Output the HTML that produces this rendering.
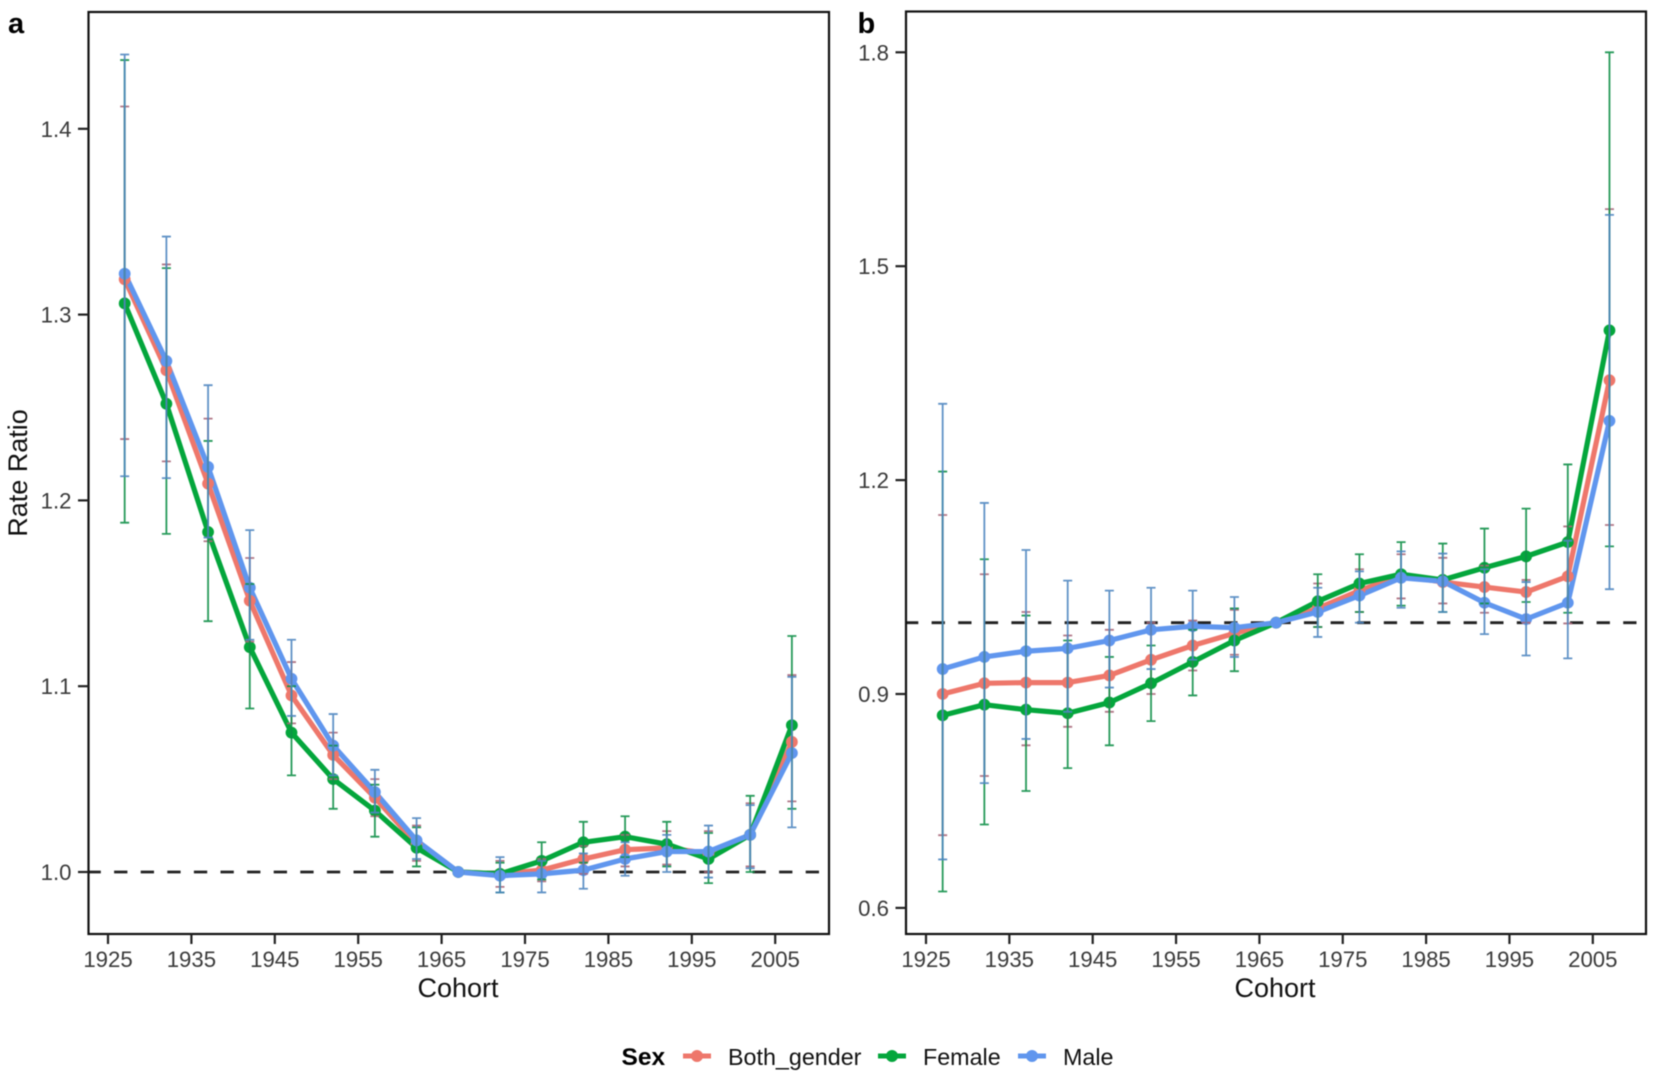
<!DOCTYPE html>
<html lang="en">
<head>
<meta charset="utf-8">
<title>Rate Ratio by Cohort</title>
<style>
html,body{margin:0;padding:0;background:#fff;}
body{width:1654px;height:1074px;overflow:hidden;}
svg{display:block;font-family:"Liberation Sans",Arial,sans-serif;filter:blur(0.55px);}
</style>
</head>
<body>
<svg id="chart" xmlns="http://www.w3.org/2000/svg" width="1654" height="1074" viewBox="0 0 1654 1074">
  <rect x="0" y="0" width="1654" height="1074" fill="#ffffff"/>
  <text x="8" y="33" font-size="29" font-weight="bold" fill="#000">a</text>
  <text x="857.5" y="33" font-size="29" font-weight="bold" fill="#000">b</text>
  <text transform="translate(27,473) rotate(-90)" text-anchor="middle" font-size="27" fill="#111">Rate Ratio</text>
  <text x="458" y="997" text-anchor="middle" font-size="27" fill="#111">Cohort</text>
  <text x="1275" y="997" text-anchor="middle" font-size="27" fill="#111">Cohort</text>
  <g>
    <text x="621.5" y="1065" font-size="24.5" font-weight="bold" fill="#000">Sex</text>
    <g>
      <line x1="683" y1="1056" x2="711" y2="1056" stroke="#EE776B" stroke-width="5"/>
      <circle cx="697" cy="1056" r="6" fill="#EE776B"/>
      <text x="728" y="1065" font-size="23.3" fill="#111">Both_gender</text>
    </g>
    <g>
      <line x1="878" y1="1056" x2="906" y2="1056" stroke="#04A63C" stroke-width="5"/>
      <circle cx="892" cy="1056" r="6" fill="#04A63C"/>
      <text x="923" y="1065" font-size="23.3" fill="#111">Female</text>
    </g>
    <g>
      <line x1="1018" y1="1056" x2="1046" y2="1056" stroke="#6096EE" stroke-width="5"/>
      <circle cx="1032" cy="1056" r="6" fill="#6096EE"/>
      <text x="1063" y="1065" font-size="23.3" fill="#111">Male</text>
    </g>
  </g>
</svg>
<script>
var cohorts = [1927,1932,1937,1942,1947,1952,1957,1962,1967,1972,1977,1982,1987,1992,1997,2002,2007];
var xTickLabels = [1925,1935,1945,1955,1965,1975,1985,1995,2005];
var yTicksA = ["1.0","1.1","1.2","1.3","1.4"];
var yTicksB = ["0.6","0.9","1.2","1.5","1.8"];
var referenceValue = 1;

var aBoth = [1.319,1.27,1.209,1.146,1.095,1.063,1.04,1.015,1,0.999,1.001,1.007,1.012,1.013,1.01,1.02,1.07];
var aBothUpper = [1.412,1.327,1.244,1.169,1.113,1.075,1.05,1.025,1,1.006,1.007,1.014,1.02,1.022,1.022,1.037,1.106];
var aBothLower = [1.233,1.221,1.178,1.124,1.08,1.05,1.03,1.006,1,0.992,0.995,0.999,1.003,1.004,1.0,1.003,1.038];
var aFemale = [1.306,1.252,1.183,1.121,1.075,1.05,1.033,1.013,1,0.999,1.006,1.016,1.019,1.015,1.007,1.02,1.079];
var aFemaleUpper = [1.437,1.325,1.232,1.155,1.1,1.068,1.047,1.024,1,1.005,1.016,1.027,1.03,1.027,1.021,1.041,1.127];
var aFemaleLower = [1.188,1.182,1.135,1.088,1.052,1.034,1.019,1.003,1,0.989,0.996,1.005,1.008,1.003,0.994,1.0,1.034];
var aMale = [1.322,1.275,1.218,1.153,1.104,1.068,1.043,1.017,1,0.998,0.999,1.001,1.007,1.011,1.011,1.02,1.064];
var aMaleUpper = [1.44,1.342,1.262,1.184,1.125,1.085,1.055,1.029,1,1.008,1.006,1.01,1.016,1.02,1.025,1.036,1.105];
var aMaleLower = [1.213,1.212,1.18,1.125,1.084,1.052,1.032,1.007,1,0.989,0.989,0.991,0.998,1.0,0.997,1.002,1.024];

var bBoth = [0.9,0.915,0.916,0.916,0.926,0.948,0.968,0.985,1,1.02,1.045,1.066,1.057,1.05,1.043,1.065,1.34];
var bBothUpper = [1.151,1.068,1.015,0.982,0.99,1.0,1.003,1.018,1,1.055,1.075,1.096,1.091,1.08,1.06,1.135,1.58];
var bBothLower = [0.702,0.785,0.828,0.854,0.875,0.9,0.933,0.955,1,0.994,1.015,1.034,1.027,1.014,1.0,0.999,1.137];
var bFemale = [0.87,0.885,0.878,0.873,0.888,0.915,0.945,0.975,1,1.03,1.055,1.068,1.06,1.077,1.093,1.113,1.41];
var bFemaleUpper = [1.212,1.089,1.01,0.975,0.952,0.968,0.99,1.02,1,1.068,1.096,1.113,1.111,1.132,1.16,1.222,1.8];
var bFemaleLower = [0.623,0.717,0.764,0.796,0.828,0.862,0.898,0.932,1,0.994,1.015,1.024,1.015,1.027,1.029,1.014,1.107];
var bMale = [0.935,0.952,0.96,0.964,0.975,0.99,0.995,0.993,1,1.015,1.038,1.063,1.058,1.028,1.005,1.028,1.283];
var bMaleUpper = [1.307,1.168,1.102,1.059,1.045,1.049,1.045,1.036,1,1.049,1.072,1.1,1.097,1.075,1.057,1.115,1.572];
var bMaleLower = [0.668,0.775,0.837,0.875,0.909,0.935,0.948,0.952,1,0.98,1.0,1.021,1.015,0.984,0.954,0.95,1.047];

var NS = 'http://www.w3.org/2000/svg';
var svg = document.getElementById('chart');

function make(tag, parent) {
  var el = document.createElementNS(NS, tag);
  parent.appendChild(el);
  return el;
}

function drawPanel(panelId, box, xAxis, yAxis, yLabels, seriesList) {
  var group = make('g', svg);
  
  

  // dashed reference line
  var refLine = make('line', group);
  
  
  refLine.setAttribute('x1', box.left - 1);
  refLine.setAttribute('x2', box.right);
  refLine.setAttribute('y1', yAxis(referenceValue));
  refLine.setAttribute('y2', yAxis(referenceValue));
  refLine.setAttribute('stroke', '#222');
  refLine.setAttribute('stroke-width', '2.8');
  refLine.setAttribute('stroke-dasharray', '13.3 13.3');

  // series lines and points
  seriesList.forEach(function (s) {
    var pts = cohorts.map(function (c, i) { return xAxis(c) + ',' + yAxis(s.values[i]); }).join(' ');
    var line = make('polyline', group);
    
    
    line.setAttribute('points', pts);
    line.setAttribute('fill', 'none');
    line.setAttribute('stroke', s.color);
    line.setAttribute('stroke-width', '5.2');
    line.setAttribute('stroke-linejoin', 'round');
  });
  seriesList.forEach(function (s) {
    cohorts.forEach(function (c, i) {
      var dot = make('circle', group);
      
      
      dot.setAttribute('cx', xAxis(c));
      dot.setAttribute('cy', yAxis(s.values[i]));
      dot.setAttribute('r', '5.9');
      dot.setAttribute('fill', s.color);
    });
  });

  // error bars
  seriesList.forEach(function (s) {
    cohorts.forEach(function (c, i) {
      if (s.upper[i] === s.lower[i]) { return; }
      var cx = xAxis(c), yu = yAxis(s.upper[i]), yl = yAxis(s.lower[i]);
      var bar = make('path', group);
      
      
      bar.setAttribute('d', 'M' + (cx - 4.5) + ' ' + yu + 'H' + (cx + 4.5) + 'M' + cx + ' ' + yu + 'V' + yl + 'M' + (cx - 4.5) + ' ' + yl + 'H' + (cx + 4.5));
      bar.setAttribute('fill', 'none');
      bar.setAttribute('stroke', s.barColor);
      bar.setAttribute('stroke-width', '1.8');
      bar.setAttribute('stroke-opacity', '0.9');
    });
  });

  // panel border
  var border = make('rect', group);
  
  
  border.setAttribute('x', box.left);
  border.setAttribute('y', box.top);
  border.setAttribute('width', box.right - box.left);
  border.setAttribute('height', box.bottom - box.top);
  border.setAttribute('fill', 'none');
  border.setAttribute('stroke', '#111');
  border.setAttribute('stroke-width', '2.2');

  // x ticks
  xTickLabels.forEach(function (t) {
    var tick = make('line', group);
    
    
    tick.setAttribute('x1', xAxis(t));
    tick.setAttribute('x2', xAxis(t));
    tick.setAttribute('y1', box.bottom);
    tick.setAttribute('y2', box.bottom + 10);
    tick.setAttribute('stroke', '#222');
    tick.setAttribute('stroke-width', '2.2');
    var label = make('text', group);
    
    
    label.setAttribute('x', xAxis(t));
    label.setAttribute('y', box.bottom + 33);
    label.setAttribute('text-anchor', 'middle');
    label.setAttribute('font-size', '22.2');
    label.setAttribute('fill', '#3a3a3a');
    label.textContent = t;
  });

  // y ticks
  yLabels.forEach(function (t) {
    var tick = make('line', group);
    
    
    tick.setAttribute('x1', box.left - 10.5);
    tick.setAttribute('x2', box.left);
    tick.setAttribute('y1', yAxis(parseFloat(t)));
    tick.setAttribute('y2', yAxis(parseFloat(t)));
    tick.setAttribute('stroke', '#222');
    tick.setAttribute('stroke-width', '2.2');
    var label = make('text', group);
    
    
    label.setAttribute('x', box.left - 17);
    label.setAttribute('y', yAxis(parseFloat(t)) + 8);
    label.setAttribute('text-anchor', 'end');
    label.setAttribute('font-size', '22.2');
    label.setAttribute('fill', '#3a3a3a');
    label.textContent = t;
  });
}

var RED = '#EE776B', GREEN = '#04A63C', BLUE = '#6096EE';

function xA(year) { return 108 + (year - 1925) * 8.34; }
function yA(v) { return 872 - (v - 1) * 1858; }
function xB(year) { return 926 + (year - 1925) * 8.335; }
function yB(v) { return 622.7 - (v - 1) * 713; }

drawPanel('a', {left: 88.5, top: 12, right: 829, bottom: 934}, xA, yA, yTicksA, [
  {key: 'both-gender', color: RED, barColor: '#A8687A', values: aBoth, upper: aBothUpper, lower: aBothLower},
  {key: 'female', color: GREEN, barColor: '#108F48', values: aFemale, upper: aFemaleUpper, lower: aFemaleLower},
  {key: 'male', color: BLUE, barColor: '#4F86C0', values: aMale, upper: aMaleUpper, lower: aMaleLower}
]);

drawPanel('b', {left: 906, top: 11.5, right: 1646, bottom: 934}, xB, yB, yTicksB, [
  {key: 'both-gender', color: RED, barColor: '#A8687A', values: bBoth, upper: bBothUpper, lower: bBothLower},
  {key: 'female', color: GREEN, barColor: '#108F48', values: bFemale, upper: bFemaleUpper, lower: bFemaleLower},
  {key: 'male', color: BLUE, barColor: '#4F86C0', values: bMale, upper: bMaleUpper, lower: bMaleLower}
]);
</script>
</body>
</html>
